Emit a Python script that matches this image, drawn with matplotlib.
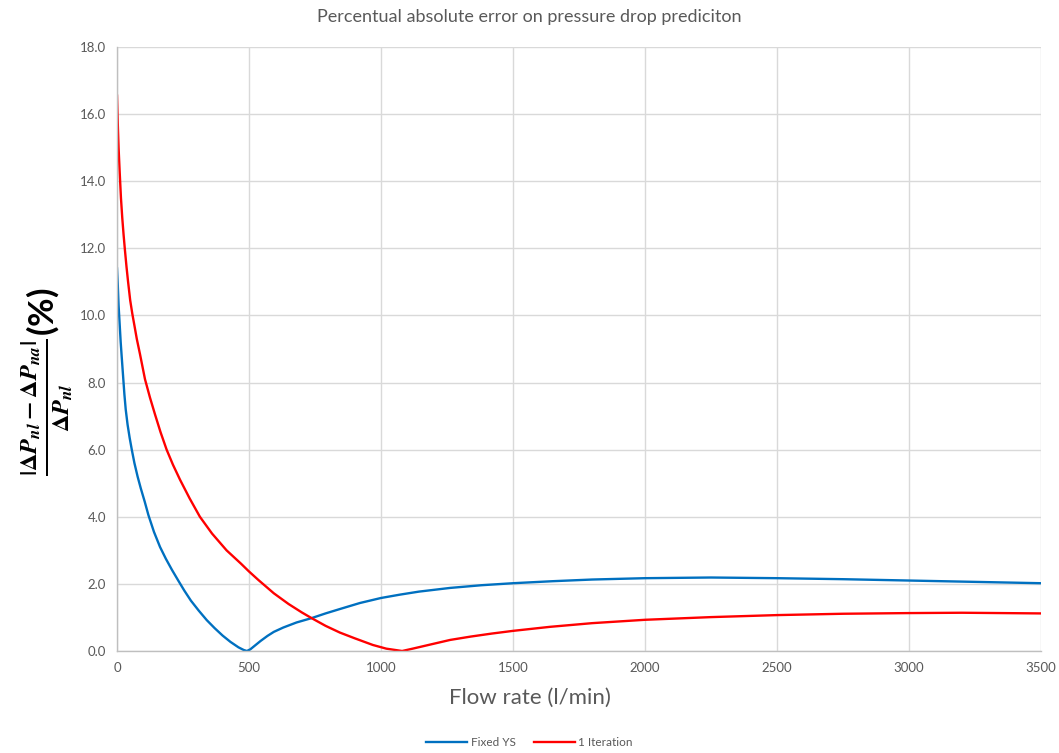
import numpy as np
import matplotlib
matplotlib.use('Agg')
import matplotlib.pyplot as plt

# --- datos ---
x_fixed = [0, 3, 6, 10, 14, 18, 23, 28, 33, 40, 48, 56, 66, 78, 90, 105, 119, 140, 163,
           185, 208, 232, 255, 280, 310, 340, 370, 400, 430, 460, 480, 492,
           505, 519, 544, 570, 594, 630, 680, 737, 790, 844, 920, 1000, 1072, 1144,
           1262, 1380, 1500, 1650, 1800, 2000, 2250, 2500, 2750, 3000, 3250, 3500]
y_fixed = [11.4, 10.9, 10.3, 9.75, 9.2, 8.75, 8.2, 7.65, 7.2, 6.75, 6.35, 6.0, 5.6, 5.2, 4.85,
           4.45, 4.05, 3.55, 3.1, 2.75, 2.42, 2.1, 1.8, 1.5, 1.2, 0.92, 0.68, 0.46, 0.27,
           0.11, 0.03, 0.0, 0.05, 0.14, 0.3, 0.45, 0.57, 0.7, 0.85, 0.98, 1.12, 1.25,
           1.43, 1.58, 1.68, 1.77, 1.88, 1.96, 2.02, 2.08, 2.13, 2.17, 2.19, 2.17,
           2.14, 2.1, 2.06, 2.02]

x_iter = [0, 3, 6, 10, 15, 20, 25, 30, 36, 42, 50, 58, 66, 75, 87, 106, 125, 144, 165,
          188, 212, 239, 275, 314, 360, 415, 470, 500, 535, 594, 650, 700, 737, 790,
          844, 900, 969, 1020, 1080, 1120, 1180, 1262, 1340, 1420, 1500, 1640, 1800,
          2000, 2250, 2500, 2750, 3000, 3200, 3500]
y_iter = [16.55, 15.7, 15.0, 14.3, 13.5, 12.9, 12.4, 11.95, 11.45, 11.0, 10.45, 10.05, 9.7,
          9.3, 8.85, 8.1, 7.55, 7.05, 6.52, 6.0, 5.55, 5.1, 4.55, 4.0, 3.5, 3.0, 2.6, 2.37,
          2.12, 1.72, 1.4, 1.15, 0.98, 0.75, 0.55, 0.38, 0.18, 0.07, 0.0, 0.07, 0.18,
          0.33, 0.43, 0.52, 0.6, 0.72, 0.83, 0.93, 1.01, 1.07, 1.11, 1.13, 1.14, 1.12]

x_ticks = [0, 500, 1000, 1500, 2000, 2500, 3000, 3500]
y_ticks = [0, 2, 4, 6, 8, 10, 12, 14, 16, 18]

gris = '#595959'
plt.rcParams['font.family'] = ['Lato', 'DejaVu Sans']
plt.rcParams['mathtext.fontset'] = 'custom'
plt.rcParams['mathtext.it'] = 'STIXGeneral:italic:bold'
plt.rcParams['mathtext.rm'] = 'STIXGeneral:bold'
plt.rcParams['mathtext.bf'] = 'STIXGeneral:bold'

fig = plt.figure(figsize=(10.59, 7.53), dpi=100)
ax = fig.add_axes([117 / 1059, 1 - 651 / 753, (1041 - 117) / 1059, (651 - 47) / 753])

ax.plot(x_fixed, y_fixed, color='#0070C0', lw=1.7, label='Fixed YS',
        solid_joinstyle='round')
ax.plot(x_iter, y_iter, color='#FF0000', lw=1.7, label='1 Iteration',
        solid_joinstyle='round')

ax.set_xlim(0, 3500)
ax.set_ylim(0, 18)
ax.set_xticks(x_ticks)
ax.set_yticks(y_ticks)
ax.set_yticklabels([f'{v:.1f}' for v in y_ticks])
ax.tick_params(length=0, colors=gris, labelsize=9.5, pad=8)
ax.grid(True, color='#D9D9D9', lw=1.0)
ax.set_axisbelow(True)
for lado in ['top', 'right']:
    ax.spines[lado].set_visible(False)
for lado in ['left', 'bottom']:
    ax.spines[lado].set_color('#BFBFBF')
    ax.spines[lado].set_linewidth(1.0)

fig.text(0.5, 1 - 17 / 753, 'Percentual absolute error on pressure drop prediciton',
         ha='center', va='center', color=gris, fontsize=13)
fig.text(0.5, 1 - 698 / 753, 'Flow rate (l/min)', ha='center', va='center',
         color=gris, fontsize=16)
fig.text(47 / 1059, 1 - 382 / 753,
         r'$\frac{|\Delta P_{nl} - \Delta P_{na}|}{\Delta P_{nl}}$(%)',
         rotation=90, ha='center', va='center', color='black', fontsize=25,
         fontweight='bold')

leg = fig.legend(loc='center', bbox_to_anchor=(0.5, 1 - 743 / 753), ncol=2, frameon=False,
                 fontsize=8.5, handlelength=3.5, columnspacing=1.5, handletextpad=0.3)
for t in leg.get_texts():
    t.set_color(gris)

fig.savefig('out.png', dpi=100)
